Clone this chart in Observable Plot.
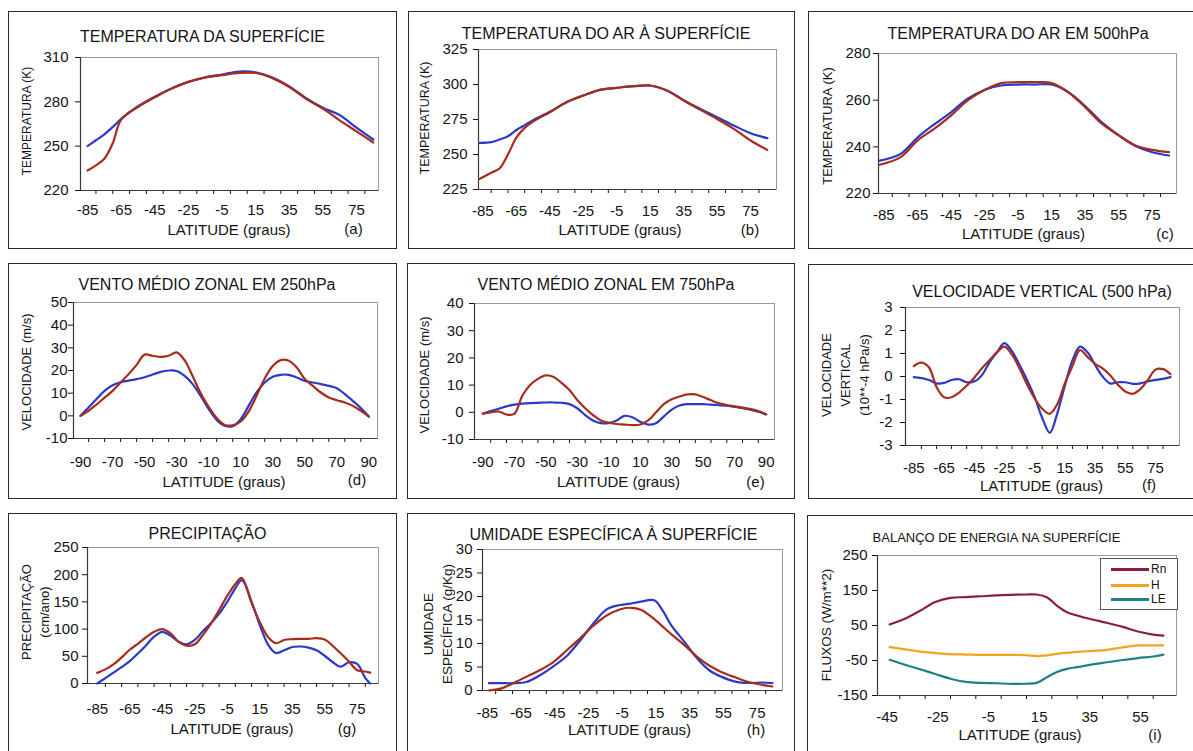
<!DOCTYPE html>
<html><head><meta charset="utf-8">
<script src="https://cdn.jsdelivr.net/npm/d3@7"></script>
<script src="https://cdn.jsdelivr.net/npm/@observablehq/plot@0.6"></script>
<style>
body{margin:0;background:#fff;width:1193px;height:751px;overflow:hidden;position:relative;font-family:"Liberation Sans",Arial,Helvetica,sans-serif;color:#141414}
.panel{position:absolute;background:#fff}
.panel svg{position:absolute;left:0;top:0;overflow:visible}
.border{position:absolute;left:0;top:0;right:0;bottom:0;border:1.5px solid #2a2a2a;pointer-events:none}
.t{position:absolute;white-space:pre;transform:translate(-50%,-50%);line-height:1;text-align:center}
.rot{transform:translate(-50%,-50%) rotate(-90deg)}
.legend{position:absolute;border:1px solid #555;background:#fff;font-size:12px}
.legend .ln{position:absolute;height:2.5px}
.legend .lb{position:absolute;transform:translateY(-50%);line-height:1}
</style></head><body><div id="root"></div>
<script>
// ---------- tick arrays ----------
const xLabels85 = [-85,-65,-45,-25,-5,15,35,55,75];
const xMarks10 = [-80,-70,-60,-50,-40,-30,-20,-10,0,10,20,30,40,50,60,70,80];
const xLabels90 = [-90,-70,-50,-30,-10,10,30,50,70,90];
const xMarks95 = [-85,-75,-65,-55,-45,-35,-25,-15,-5,5,15,25,35,45,55,65,75,85];
const xLabelsI = [-45,-25,-5,15,35,55];
const xMarksI = [-40,-30,-20,-10,0,10,20,30,40,50,60];
const yTicksA = [220,250,280,310];
const yTicksB = [225,250,275,300,325];
const yTicksC = [220,240,260,280];
const yTicksD = [-10,0,10,20,30,40,50];
const yTicksE = [-10,0,10,20,30,40];
const yTicksF = [-3,-2,-1,0,1,2,3];
const yTicksG = [0,50,100,150,200,250];
const yTicksH = [0,5,10,15,20,25,30];
const yTicksI = [-150,-50,50,150,250];

// ---------- data ----------
// (a) Temperatura da superfície
const latA  = [-85,-80,-75,-70,-65,-55,-45,-35,-25,-15,-5,5,15,25,35,45,55,65,75,85];
const redA  = [233.5,237,241.5,252,268,276.5,283,289,293.5,296.5,298,299.5,299.5,296,290,282,275.5,267.5,260,252.5];
const blueA = [250,254,258,263,268.5,277,283.5,289,293.5,296.5,298.5,300.5,300,296.5,290.5,282.5,276,271,262.5,254.5];
// (b) Temperatura do ar à superfície
const latB  = [-87,-80,-75,-70,-65,-60,-55,-45,-35,-25,-15,-5,5,15,25,35,45,55,65,75,85];
const redB  = [232.6,237,240,250,262,269,273.5,280.2,287.4,292.1,296.2,297.6,298.8,299.3,295.7,288.6,281.9,275.4,268.3,260,253.3];
const blueB = [258.3,258.8,260.7,263,267.5,271,274.5,280.5,287.4,292.1,296.2,297.6,298.8,299.3,295.7,288.8,282.6,276.7,270.7,265.2,261.7];
// (c) Temperatura do ar em 500hPa
const latC  = [-88,-75,-65,-55,-45,-35,-25,-15,-5,5,15,25,35,45,55,65,75,85];
const redC  = [232.2,235.6,242.7,247.7,253.4,259.9,264.4,267.3,267.7,267.7,267.3,263.4,257,249.9,244.9,240.6,238.7,237.7];
const blueC = [234,237,244,249.6,254.8,260.6,264.4,266.3,266.7,266.7,266.7,263.4,257.5,250.5,245,240.4,237.7,236.3];
// (d),(e) Vento médio zonal
const latDE = [-90,-85,-80,-75,-70,-65,-60,-55,-50,-45,-40,-35,-30,-25,-20,-15,-10,-5,0,5,10,15,20,25,30,35,40,45,50,55,60,65,70,75,80,85,90];
const redD  = [0,2.2,5,8,11,14.7,18.4,22.5,27,26.5,26,26.5,28,24.5,17.5,10,4,-1,-4,-4.2,-2.5,2,9,16.5,22,24.6,24.3,21.3,16.2,13.2,10.3,8.1,6.9,5.9,4.4,2.2,-0.3];
const blueD = [0,3.7,7.4,11,13.5,14.8,15.5,16.2,17,18.2,19.4,20,19.8,17.6,14,8.8,3,-1.8,-4.4,-4.6,-1.5,4.5,10.5,14.7,17.2,18.1,18.1,16.9,15.4,14.7,14,13.2,12.2,9.6,6.6,3.4,-0.3];
const redE  = [-0.5,0,0.3,-0.8,-0.6,6,10,12.3,13.6,13,10.8,8.2,4.5,1.5,-1,-3,-3.8,-4.3,-4.5,-4.7,-4.5,-3,0,3,4.8,5.8,6.6,6.6,5.6,4.4,3.3,2.7,2.2,1.7,1.2,0.5,-0.7];
const blueE = [-0.5,0.5,1.3,2.2,2.8,3.2,3.4,3.5,3.6,3.6,3.5,3,1.5,-1,-3,-4,-4,-3,-1.3,-1.8,-3.5,-4.5,-4,-1.5,1,2.5,3,3,3,2.8,2.6,2.4,2,1.5,1,0.2,-0.8];
// (f) Velocidade vertical
const latF  = [-85,-80,-75,-70,-65,-60,-55,-50,-45,-40,-35,-30,-25,-20,-15,-10,-5,0,5,10,15,20,25,30,35,40,45,50,55,60,65,70,75,80,85];
const redF  = [0.45,0.6,0.4,-0.45,-0.9,-0.9,-0.7,-0.4,-0.05,0.35,0.7,1.05,1.3,0.95,0.35,-0.35,-0.95,-1.4,-1.62,-1.2,-0.3,0.45,1.15,0.85,0.55,0.35,0.05,-0.35,-0.65,-0.75,-0.55,-0.15,0.3,0.32,0.1];
const blueF = [-0.03,-0.07,-0.15,-0.3,-0.28,-0.15,-0.12,-0.25,-0.22,0.05,0.6,1.05,1.45,1.1,0.5,-0.15,-0.9,-1.8,-2.45,-1.6,-0.4,0.7,1.3,1.05,0.5,0,-0.3,-0.25,-0.25,-0.32,-0.3,-0.2,-0.15,-0.1,-0.03];
// (g) Precipitação
const latG  = [-85,-80,-75,-70,-65,-60,-55,-50,-45,-40,-35,-30,-25,-20,-15,-10,-5,0,4,10,15,20,25,30,35,40,45,50,55,60,65,70,75,80,83];
const redG  = [19.5,26,35,48,62,73,85,95,100,92.7,77,69.5,72,89,110,135,161,183,194,148,113,86,74,80,81.5,82,82,83.5,81,69,55,40,24.4,22,20];
const blueG = [0,10,20,30,41,55,70,86,95,88,77,72,80,96,111,128,150,175,190,150,108,72,56,61,67,68,66,61,51,39,31,39,36,10,0];
// (h) Umidade específica à superfície
const latH  = [-84,-76,-70,-62,-54,-46,-38,-30,-22,-14,-6,0,6,14,19,24,32,40,47,54,62,70,78,84];
const blueH = [1.56,1.56,1.56,1.8,3.2,5.1,7.3,10.6,14.3,17.3,18.2,18.5,18.9,19.2,17,13.9,10.3,6.6,4.2,2.9,1.9,1.6,1.7,1.56];
const redH  = [0,0.5,1.5,2.9,4.3,6,8.5,11.1,13.8,16,17.3,17.6,17.2,15.2,13.6,12,9.6,7,5.2,3.9,2.8,1.8,1.2,0.85];
// (i) Balanço de energia na superfície
const latI = [-44,-38,-32,-26,-20,-14,-8,-2,4,10,14,18,22,26,30,36,42,48,54,60,64];
const rnI  = [53,69,92,117,129,131,133.5,136,137.6,138.6,138.6,131,107,88,78.6,67,57,46,33,24,21];
const hI   = [-12,-18,-24.5,-28.5,-32,-33,-34,-34,-34,-35,-37.6,-35.5,-31,-28,-25.5,-22.5,-19.5,-12.5,-7,-7,-7];
const leI  = [-48,-62,-75,-88.5,-102,-111,-114,-115,-116.7,-116.5,-114,-98,-83,-74,-69,-61,-55,-48.5,-43,-38.5,-33];
const legendI = ["Rn","H","LE"];

const RED = "#a82c1c", BLUE = "#2a3ac6";
const RN = "#8a1c46", HC = "#f5a21e", LEC = "#1d8288";
const LAT = "LATITUDE (graus)";

const panels = [
 {left:8, top:11, w:389, h:238, m:[46,19,59,72], xd:[-89.2,88.1], yd:[220,310], yt:yTicksA, xl:xLabels85, xm:xMarks10, xPad:14, yPad:7,
  series:[[latA,blueA,BLUE],[latA,redA,RED]],
  title:["TEMPERATURA DA SUPERFÍCIE",194.5,25.5,16], xlab:[221,218], letter:["(a)",345.5,217], ylab:["TEMPERATURA (K)",19,110,12,14]},
 {left:408, top:11, w:387, h:238, m:[38,19,60,70], xd:[-87.6,90.5], yd:[225,325], yt:yTicksB, xl:xLabels85, xm:xMarks10, xPad:16, yPad:6,
  series:[[latB,blueB,BLUE],[latB,redB,RED]],
  title:["TEMPERATURA DO AR À SUPERFÍCIE",198,23,16], xlab:[212,218], letter:["(b)",342,218], ylab:["TEMPERATURA (K)",17,107,12.5,14]},
 {left:808, top:11, w:387, h:238, m:[42,19,56,70], xd:[-88.2,89.5], yd:[220,280], yt:yTicksC, xl:xLabels85, xm:xMarks10, xPad:16, yPad:3,
  series:[[latC,blueC,BLUE],[latC,redC,RED]],
  title:["TEMPERATURA DO AR EM 500hPa",210,23,16], xlab:[215.5,221.5], letter:["(c)",357,221.5], ylab:["TEMPERATURA (K)",20,115,13,14]},
 {left:8, top:263, w:389, h:236, m:[39,20,61,65], xd:[-94.4,95.4], yd:[-10,50], yt:yTicksD, xl:xLabels90, xm:xMarks95, xPad:18, yPad:1,
  series:[[latDE,blueD,BLUE],[latDE,redD,RED]],
  title:["VENTO MÉDIO ZONAL EM 250hPa",199,22,16], xlab:[216,218], letter:["(d)",349,216], ylab:["VELOCIDADE (m/s)",19,109,13,14]},
 {left:407, top:263, w:388, h:236, m:[40,21,60,67], xd:[-95.3,95.3], yd:[-10,40], yt:yTicksE, xl:xLabels90, xm:xMarks95, xPad:17, yPad:6,
  series:[[latDE,blueE,BLUE],[latDE,redE,RED]],
  title:["VENTO MÉDIO ZONAL EM 750hPa",199,22,16], xlab:[211.5,218], letter:["(e)",348.5,218], ylab:["VELOCIDADE (m/s)",18,112,13,14]},
 {left:808, top:264, w:387, h:235, m:[43,16,54,97], xd:[-90.5,90.9], yd:[-3,3], yt:yTicksF, xl:xLabels85, xm:xMarks10, xPad:17, yPad:8,
  series:[[latF,blueF,BLUE],[latF,redF,RED]],
  title:["VELOCIDADE VERTICAL (500 hPa)",234,27.5,16], xlab:[233.5,220.5], letter:["(f)",341,220], ylab:["VELOCIDADE\nVERTICAL\n(10**-4 hPa/s)",37,111,13,19]},
 {left:8, top:513, w:389, h:240, m:[34,19,70,79], xd:[-91,88.1], yd:[0,250], yt:yTicksG, xl:xLabels85, xm:xMarks10, xPad:20, yPad:4,
  series:[[latG,blueG,BLUE],[latG,redG,RED]],
  title:["PRECIPITAÇÃO",199.5,20.5,16], xlab:[224,215], letter:["(g)",339,215], ylab:["PRECIPITAÇÃO\n(cm/ano)",28,99,13,18]},
 {left:407, top:513, w:388, h:240, m:[36,13,63,75], xd:[-87.8,90], yd:[0,30], yt:yTicksH, xl:xLabels85, xm:xMarks10, xPad:17, yPad:5,
  series:[[latH,blueH,BLUE],[latH,redH,RED]],
  title:["UMIDADE ESPECÍFICA À SUPERFÍCIE",206.5,22,16], xlab:[222.5,216], letter:["(h)",349,216], ylab:["UMIDADE\nESPECÍFICA (g/Kg)",30.5,111,13.5,19]},
 {left:807, top:515, w:388, h:238, m:[40,19,58,70], xd:[-48.8,69.2], yd:[-150,250], yt:yTicksI, xl:xLabelsI, xm:xMarksI, xPad:16, yPad:5,
  series:[[latI,rnI,RN],[latI,hI,HC],[latI,leI,LEC]],
  title:["BALANÇO DE ENERGIA NA SUPERFÍCIE",189.5,22,13], xlab:[213,219], letter:["(i)",348,219], ylab:["FLUXOS (W/m**2)",20,110,13.5,14],
  legend:true}
];

const root = document.getElementById("root");
function addText(parent, txt, x, y, size, rot, lh){
  const d = document.createElement("div");
  d.className = "t" + (rot ? " rot" : "");
  d.textContent = txt;
  d.style.left = x + "px"; d.style.top = y + "px"; d.style.fontSize = size + "px";
  if (lh) d.style.lineHeight = lh + "px";
  parent.appendChild(d);
}

for (const p of panels){
  const div = document.createElement("div");
  div.className = "panel";
  Object.assign(div.style, {left:p.left+"px", top:p.top+"px", width:p.w+"px", height:p.h+"px"});
  const inDom = v => v >= p.xd[0] && v <= p.xd[1];
  const marks = [
    Plot.frame({stroke:"#9a9a9a", strokeWidth:1}),
    Plot.axisY({ticks:p.yt, tickSize:5, tickPadding:p.yPad, tickFormat:d=>String(d), label:null, fontSize:15}),
    Plot.axisX({ticks:p.xm.filter(inDom), tickSize:4, tickFormat:()=>"", label:null}),
    Plot.axisX({ticks:p.xl, tickSize:0, tickPadding:p.xPad, tickFormat:d=>String(d), label:null, fontSize:15}),
    Plot.ruleX([p.xd[0]], {stroke:"#3a3a3a", strokeWidth:1.2}),
    Plot.ruleY([p.yd[0]], {stroke:"#3a3a3a", strokeWidth:1.2}),
    ...p.series.map(([xs, ys, c]) => Plot.line(ys, {x:xs, y:ys, stroke:c, strokeWidth:2.2, curve:"catmull-rom"}))
  ];
  const svg = Plot.plot({
    width:p.w, height:p.h,
    marginTop:p.m[0], marginRight:p.m[1], marginBottom:p.m[2], marginLeft:p.m[3],
    x:{domain:p.xd}, y:{domain:p.yd},
    style:{fontFamily:'"Liberation Sans", Arial, Helvetica, sans-serif', fontSize:"15px", color:"#141414", background:"transparent"},
    marks
  });
  div.appendChild(svg);
  addText(div, p.title[0], p.title[1], p.title[2], p.title[3]);
  addText(div, LAT, p.xlab[0], p.xlab[1], 15);
  addText(div, p.letter[0], p.letter[1], p.letter[2], 15);
  addText(div, p.ylab[0], p.ylab[1], p.ylab[2], p.ylab[3], true, p.ylab[4]);
  if (p.legend){
    const lg = document.createElement("div");
    lg.className = "legend";
    Object.assign(lg.style, {left:"293px", top:"43px", width:"76px", height:"50px"});
    const cols = [RN, HC, LEC];
    const ys = [10, 26, 40];
    legendI.forEach((name, i) => {
      const ln = document.createElement("div");
      ln.className = "ln";
      Object.assign(ln.style, {left:"10px", width:"38px", top:(ys[i]-1)+"px", background:cols[i]});
      lg.appendChild(ln);
      const lb = document.createElement("div");
      lb.className = "lb";
      lb.textContent = name;
      Object.assign(lb.style, {left:"50px", top:ys[i]+"px"});
      lg.appendChild(lb);
    });
    div.appendChild(lg);
  }
  const b = document.createElement("div");
  b.className = "border";
  div.appendChild(b);
  root.appendChild(div);
}
</script></body></html>
